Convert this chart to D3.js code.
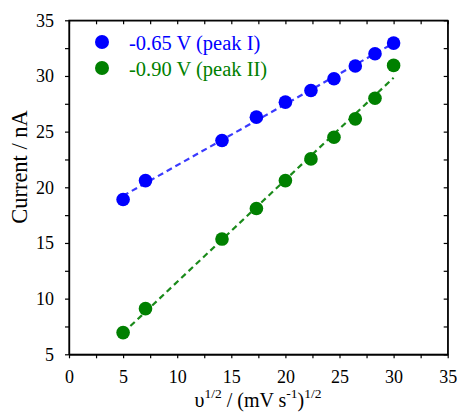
<!DOCTYPE html>
<html>
<head>
<meta charset="utf-8">
<script src="https://cdn.jsdelivr.net/npm/d3@7"></script>
<style>
  body { margin: 0; background: #fff; }
</style>
</head>
<body>
<div id="chart"></div>
<script>
// sqrt of scan rate, (mV s-1)^1/2
const sqrtRate = [5, 7.07, 14.14, 17.32, 20, 22.36, 24.49, 26.46, 28.28, 30];
// peak currents, nA
const peakI = [18.9, 20.6, 24.2, 26.3, 27.65, 28.7, 29.75, 30.9, 32.0, 32.95];
const peakII = [6.95, 9.1, 15.35, 18.1, 20.6, 22.55, 24.5, 26.15, 28.0, 30.95];

const seriesNames = ["-0.65 V (peak I)", "-0.90 V (peak II)"];
const seriesColors = ["#0000ff", "#008000"];
const lineColors = ["#3a3aff", "#1a8a1a"];

const xTicks = [0, 5, 10, 15, 20, 25, 30, 35];
const xMinor = [2.5, 7.5, 12.5, 17.5, 22.5, 27.5, 32.5];
const yTicks = [5, 10, 15, 20, 25, 30, 35];
const yMinor = [7.5, 12.5, 17.5, 22.5, 27.5, 32.5];
const fitRange = [5, 30];

const FONT = "'Liberation Serif', 'Times New Roman', serif";
const width = 457, height = 414;
const margin = { left: 69, right: 9.3, top: 20.3, bottom: 59.7 };

const svg = d3.select("#chart").append("svg")
    .attr("width", width)
    .attr("height", height);

const x = d3.scaleLinear().domain([0, 35]).range([margin.left, width - margin.right]);
const y = d3.scaleLinear().domain([5, 35]).range([height - margin.bottom, margin.top]);

// axes: left/bottom ticks outward, top/right ticks inward
function drawAxis(axis, transform, labels) {
    const g = svg.append("g").attr("transform", transform).call(axis);
    g.selectAll("path, line").attr("stroke", "#000").attr("stroke-width", 1.2);
    g.selectAll("text").attr("fill", "#000")
        .style("font-family", FONT).style("font-size", "18px");
    if (!labels) g.selectAll("text").remove();
    return g;
}

const bottomY = height - margin.bottom;
drawAxis(d3.axisBottom(x).tickValues(xTicks).tickSize(4).tickSizeOuter(0).tickPadding(12),
    `translate(0,${bottomY})`, true);
drawAxis(d3.axisBottom(x).tickValues(xMinor).tickSize(4).tickSizeOuter(0),
    `translate(0,${bottomY})`, false);
drawAxis(d3.axisTop(x).tickValues(xTicks.concat(xMinor)).tickSize(-4).tickSizeOuter(0),
    `translate(0,${margin.top})`, false);

drawAxis(d3.axisLeft(y).tickValues(yTicks).tickSize(4).tickSizeOuter(0).tickPadding(11),
    `translate(${margin.left},0)`, true);
drawAxis(d3.axisLeft(y).tickValues(yMinor).tickSize(4).tickSizeOuter(0),
    `translate(${margin.left},0)`, false);
drawAxis(d3.axisRight(y).tickValues(yTicks.concat(yMinor)).tickSize(-4).tickSizeOuter(0),
    `translate(${width - margin.right},0)`, false);

// frame
svg.append("rect")
    .attr("x", x(0)).attr("y", y(35))
    .attr("width", x(35) - x(0)).attr("height", y(5) - y(35))
    .attr("fill", "none").attr("stroke", "#000").attr("stroke-width", 1.2);

// linear fits
function fit(xs, ys) {
    const mx = d3.mean(xs), my = d3.mean(ys);
    const sxy = d3.sum(xs, (v, i) => (v - mx) * (ys[i] - my));
    const sxx = d3.sum(xs, v => (v - mx) * (v - mx));
    const b = sxy / sxx;
    return { b, a: my - b * mx };
}

const series = [peakI, peakII];
const line = d3.line().x(d => x(d[0])).y(d => y(d[1]));

series.forEach((vals, k) => {
    const f = fit(sqrtRate, vals);
    svg.append("path")
        .datum(fitRange.map(v => [v, f.a + f.b * v]))
        .attr("d", line)
        .attr("fill", "none")
        .attr("stroke", lineColors[k])
        .attr("stroke-width", 2.2)
        .attr("stroke-dasharray", "6,4");
});

series.forEach((vals, k) => {
    svg.append("g").selectAll("circle")
        .data(vals)
        .enter()
        .append("circle")
        .attr("cx", (d, i) => x(sqrtRate[i]))
        .attr("cy", d => y(d))
        .attr("r", 6.8)
        .attr("fill", seriesColors[k]);
});

// legend
const legend = svg.append("g");
seriesNames.forEach((name, k) => {
    const cy = 42 + k * 26;
    legend.append("circle")
        .attr("cx", 102).attr("cy", cy).attr("r", 7)
        .attr("fill", seriesColors[k]);
    legend.append("text")
        .attr("x", 129).attr("y", cy + 8)
        .attr("fill", seriesColors[k])
        .style("font-family", FONT)
        .style("font-size", "20.5px")
        .text(name);
});

// axis titles
const xTitle = svg.append("text")
    .attr("x", 258).attr("y", 407)
    .attr("text-anchor", "middle")
    .attr("fill", "#000")
    .style("font-family", FONT)
    .style("font-size", "20px");
xTitle.append("tspan").text("υ");
xTitle.append("tspan").attr("dy", -9).style("font-size", "13.5px").text("1/2");
xTitle.append("tspan").attr("dy", 9).text(" / (mV s");
xTitle.append("tspan").attr("dy", -9).style("font-size", "13.5px").text("-1");
xTitle.append("tspan").attr("dy", 9).text(")");
xTitle.append("tspan").attr("dy", -9).style("font-size", "13.5px").text("1/2");

svg.append("text")
    .attr("transform", "translate(27,167) rotate(-90)")
    .attr("text-anchor", "middle")
    .attr("fill", "#000")
    .style("font-family", FONT)
    .style("font-size", "22.5px")
    .text("Current / nA");
</script>
</body>
</html>
